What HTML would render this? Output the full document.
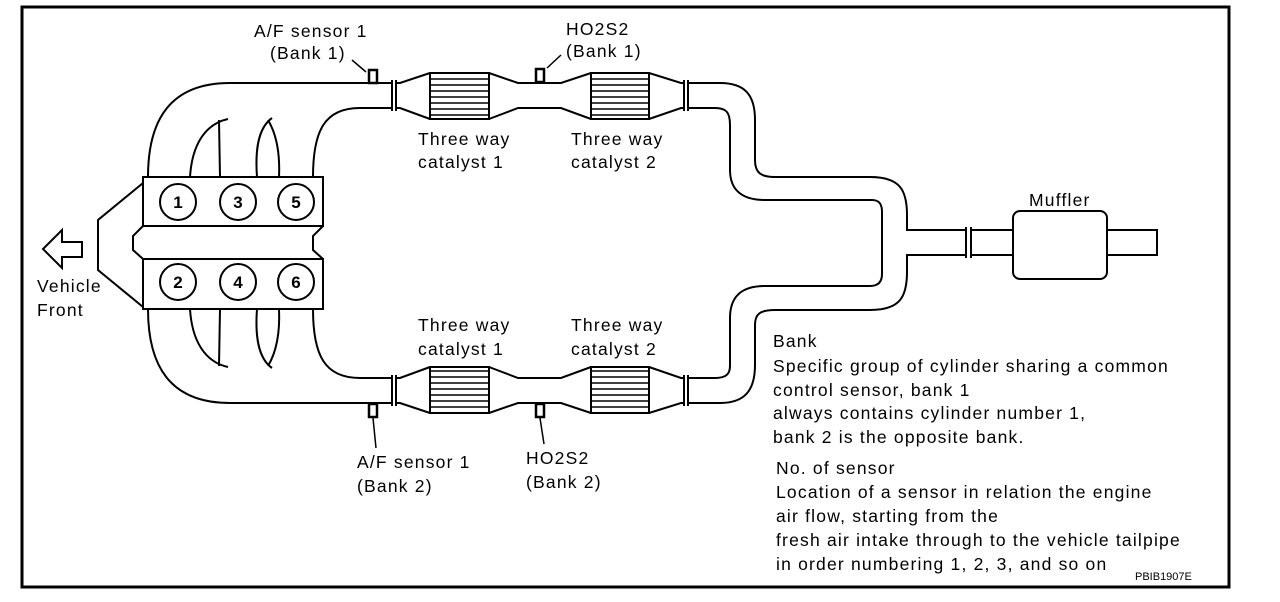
<!DOCTYPE html>
<html><head><meta charset="utf-8"><style>
html,body{margin:0;padding:0;background:#fff}
svg{display:block}
text{font-family:"Liberation Sans",Arial,sans-serif;font-size:17.5px;letter-spacing:1.2px;fill:#000}
.n{font-weight:bold;font-size:17px;letter-spacing:0;text-anchor:middle}
</style></head><body>
<svg width="1280" height="602" viewBox="0 0 1280 602" xmlns="http://www.w3.org/2000/svg">
<rect x="22" y="7" width="1207" height="580" fill="none" stroke="#000" stroke-width="3"/>
<g fill="none" stroke="#000" stroke-width="2">
<rect x="143" y="177" width="180" height="49" />
<rect x="143" y="259" width="180" height="50" />
<path d="M143,226 L133,236 L133,250 L143,259 M323,226 L313,236 L313,250 L323,259"/>
<path d="M143,183 L98,220 L98,270 L143,307"/>
<circle cx="178" cy="202" r="18"/><circle cx="238" cy="202" r="18"/><circle cx="296" cy="202" r="18"/>
<circle cx="178" cy="282" r="18"/><circle cx="238" cy="282" r="18"/><circle cx="296" cy="282" r="18"/>
<path d="M43,249 L62,230 L62,242 L82,242 L82,257 L62,257 L62,268 Z"/>
<path d="M190,177 C192,145 205,124 228,119 M219,120 L220,177"/>
<path d="M257,177 C255,150 258,128 272,118 M268,120 C277,135 280,155 279,177"/>
<path d="M190,309 C192,341 205,362 228,367 M219,366 L220,309"/>
<path d="M257,309 C255,336 258,358 272,368 M268,366 C277,351 280,331 279,309"/>
<path d="M148,177 C148,120 170,83 230,83 L392,83"/>
<path d="M313,177 C313,130 325,108 360,108 L392,108"/>
<path d="M148,309 C148,366 170,403 230,403 L392,403"/>
<path d="M313,309 C313,356 325,378 360,378 L392,378"/>
<g id="cat">
<path d="M392,80 L392,111 M396,80 L396,111"/>
<path d="M396,83 L400,83 L430,73 M396,108 L400,108 L430,119"/>
<rect x="430" y="73" width="59" height="46"/>
<path d="M430,79H489M430,85H489M430,91H489M430,97H489M430,103H489M430,109H489M430,115H489" stroke-width="1.5"/>
<path d="M489,73 L518,83 L561,83 L591,73 M489,119 L518,108 L561,108 L591,119"/>
<rect x="591" y="73" width="58" height="46"/>
<path d="M591,79H649M591,85H649M591,91H649M591,97H649M591,103H649M591,109H649M591,115H649" stroke-width="1.5"/>
<path d="M649,73 L681,83 L684,83 M649,119 L681,108 L684,108"/>
<path d="M684,80 L684,111 M688,80 L688,111"/>
</g>
<use href="#cat" transform="translate(0,486) scale(1,-1)"/>
<path d="M688,83 L720,83 C745,83 755,95 755,120 L755,160 C755,172 760,177 775,177 L870,177 C900,177 907,190 907,215 L907,230 L966,230"/>
<path d="M688,108 L715,108 C726,108 730,112 730,125 L730,170 C730,190 742,200 765,200 L872,200 C880,200 882,205 882,212 L882,274 C882,282 878,286 870,286 L765,286 C742,286 730,296 730,318 L730,366 C730,374 726,378 715,378 L688,378"/>
<path d="M688,403 L720,403 C745,403 755,390 755,365 L755,325 C755,314 760,310 775,310 L870,310 C900,310 907,297 907,272 L907,255 L966,255"/>
<path d="M966,227 L966,258 M971,227 L971,258"/>
<path d="M971,230 L1013,230 M971,255 L1013,255"/>
<rect x="1013" y="211" width="94" height="68" rx="7"/>
<path d="M1107,230 L1157,230 L1157,255 L1107,255"/>
<path d="M352,60 L366,72 M547,68 L561,55 M373,418 L376,448 M540,418 L544,444" stroke-width="1.5"/>
</g>
<g fill="#fff" stroke="#000" stroke-width="2.5">
<rect x="369" y="70" width="8" height="13"/>
<rect x="536" y="69" width="8" height="13"/>
<rect x="369" y="404" width="8" height="13"/>
<rect x="536" y="404" width="8" height="13"/>
</g>
<text class="n" x="178" y="208">1</text><text class="n" x="238" y="208">3</text><text class="n" x="296" y="208">5</text>
<text class="n" x="178" y="288">2</text><text class="n" x="238" y="288">4</text><text class="n" x="296" y="288">6</text>
<text x="254" y="37">A/F sensor 1</text>
<text x="270" y="59">(Bank 1)</text>
<text x="566" y="35">HO2S2</text>
<text x="566" y="57">(Bank 1)</text>
<text x="418" y="145">Three way</text>
<text x="418" y="168">catalyst 1</text>
<text x="571" y="145">Three way</text>
<text x="571" y="168">catalyst 2</text>
<text x="418" y="331">Three way</text>
<text x="418" y="355">catalyst 1</text>
<text x="571" y="331">Three way</text>
<text x="571" y="355">catalyst 2</text>
<text x="357" y="468">A/F sensor 1</text>
<text x="357" y="492">(Bank 2)</text>
<text x="526" y="464">HO2S2</text>
<text x="526" y="488">(Bank 2)</text>
<text x="1029" y="206">Muffler</text>
<text x="37" y="292">Vehicle</text>
<text x="37" y="316">Front</text>
<text x="773" y="347">Bank</text>
<text x="773" y="372">Specific group of cylinder sharing a common</text>
<text x="773" y="396">control sensor, bank 1</text>
<text x="773" y="419">always contains cylinder number 1,</text>
<text x="773" y="443">bank 2 is the opposite bank.</text>
<text x="776" y="474">No. of sensor</text>
<text x="776" y="498">Location of a sensor in relation the engine</text>
<text x="776" y="522">air flow, starting from the</text>
<text x="776" y="546">fresh air intake through to the vehicle tailpipe</text>
<text x="776" y="570">in order numbering 1, 2, 3, and so on</text>
<text x="1135" y="580" style="font-size:11px;letter-spacing:0">PBIB1907E</text>
</svg>
</body></html>
